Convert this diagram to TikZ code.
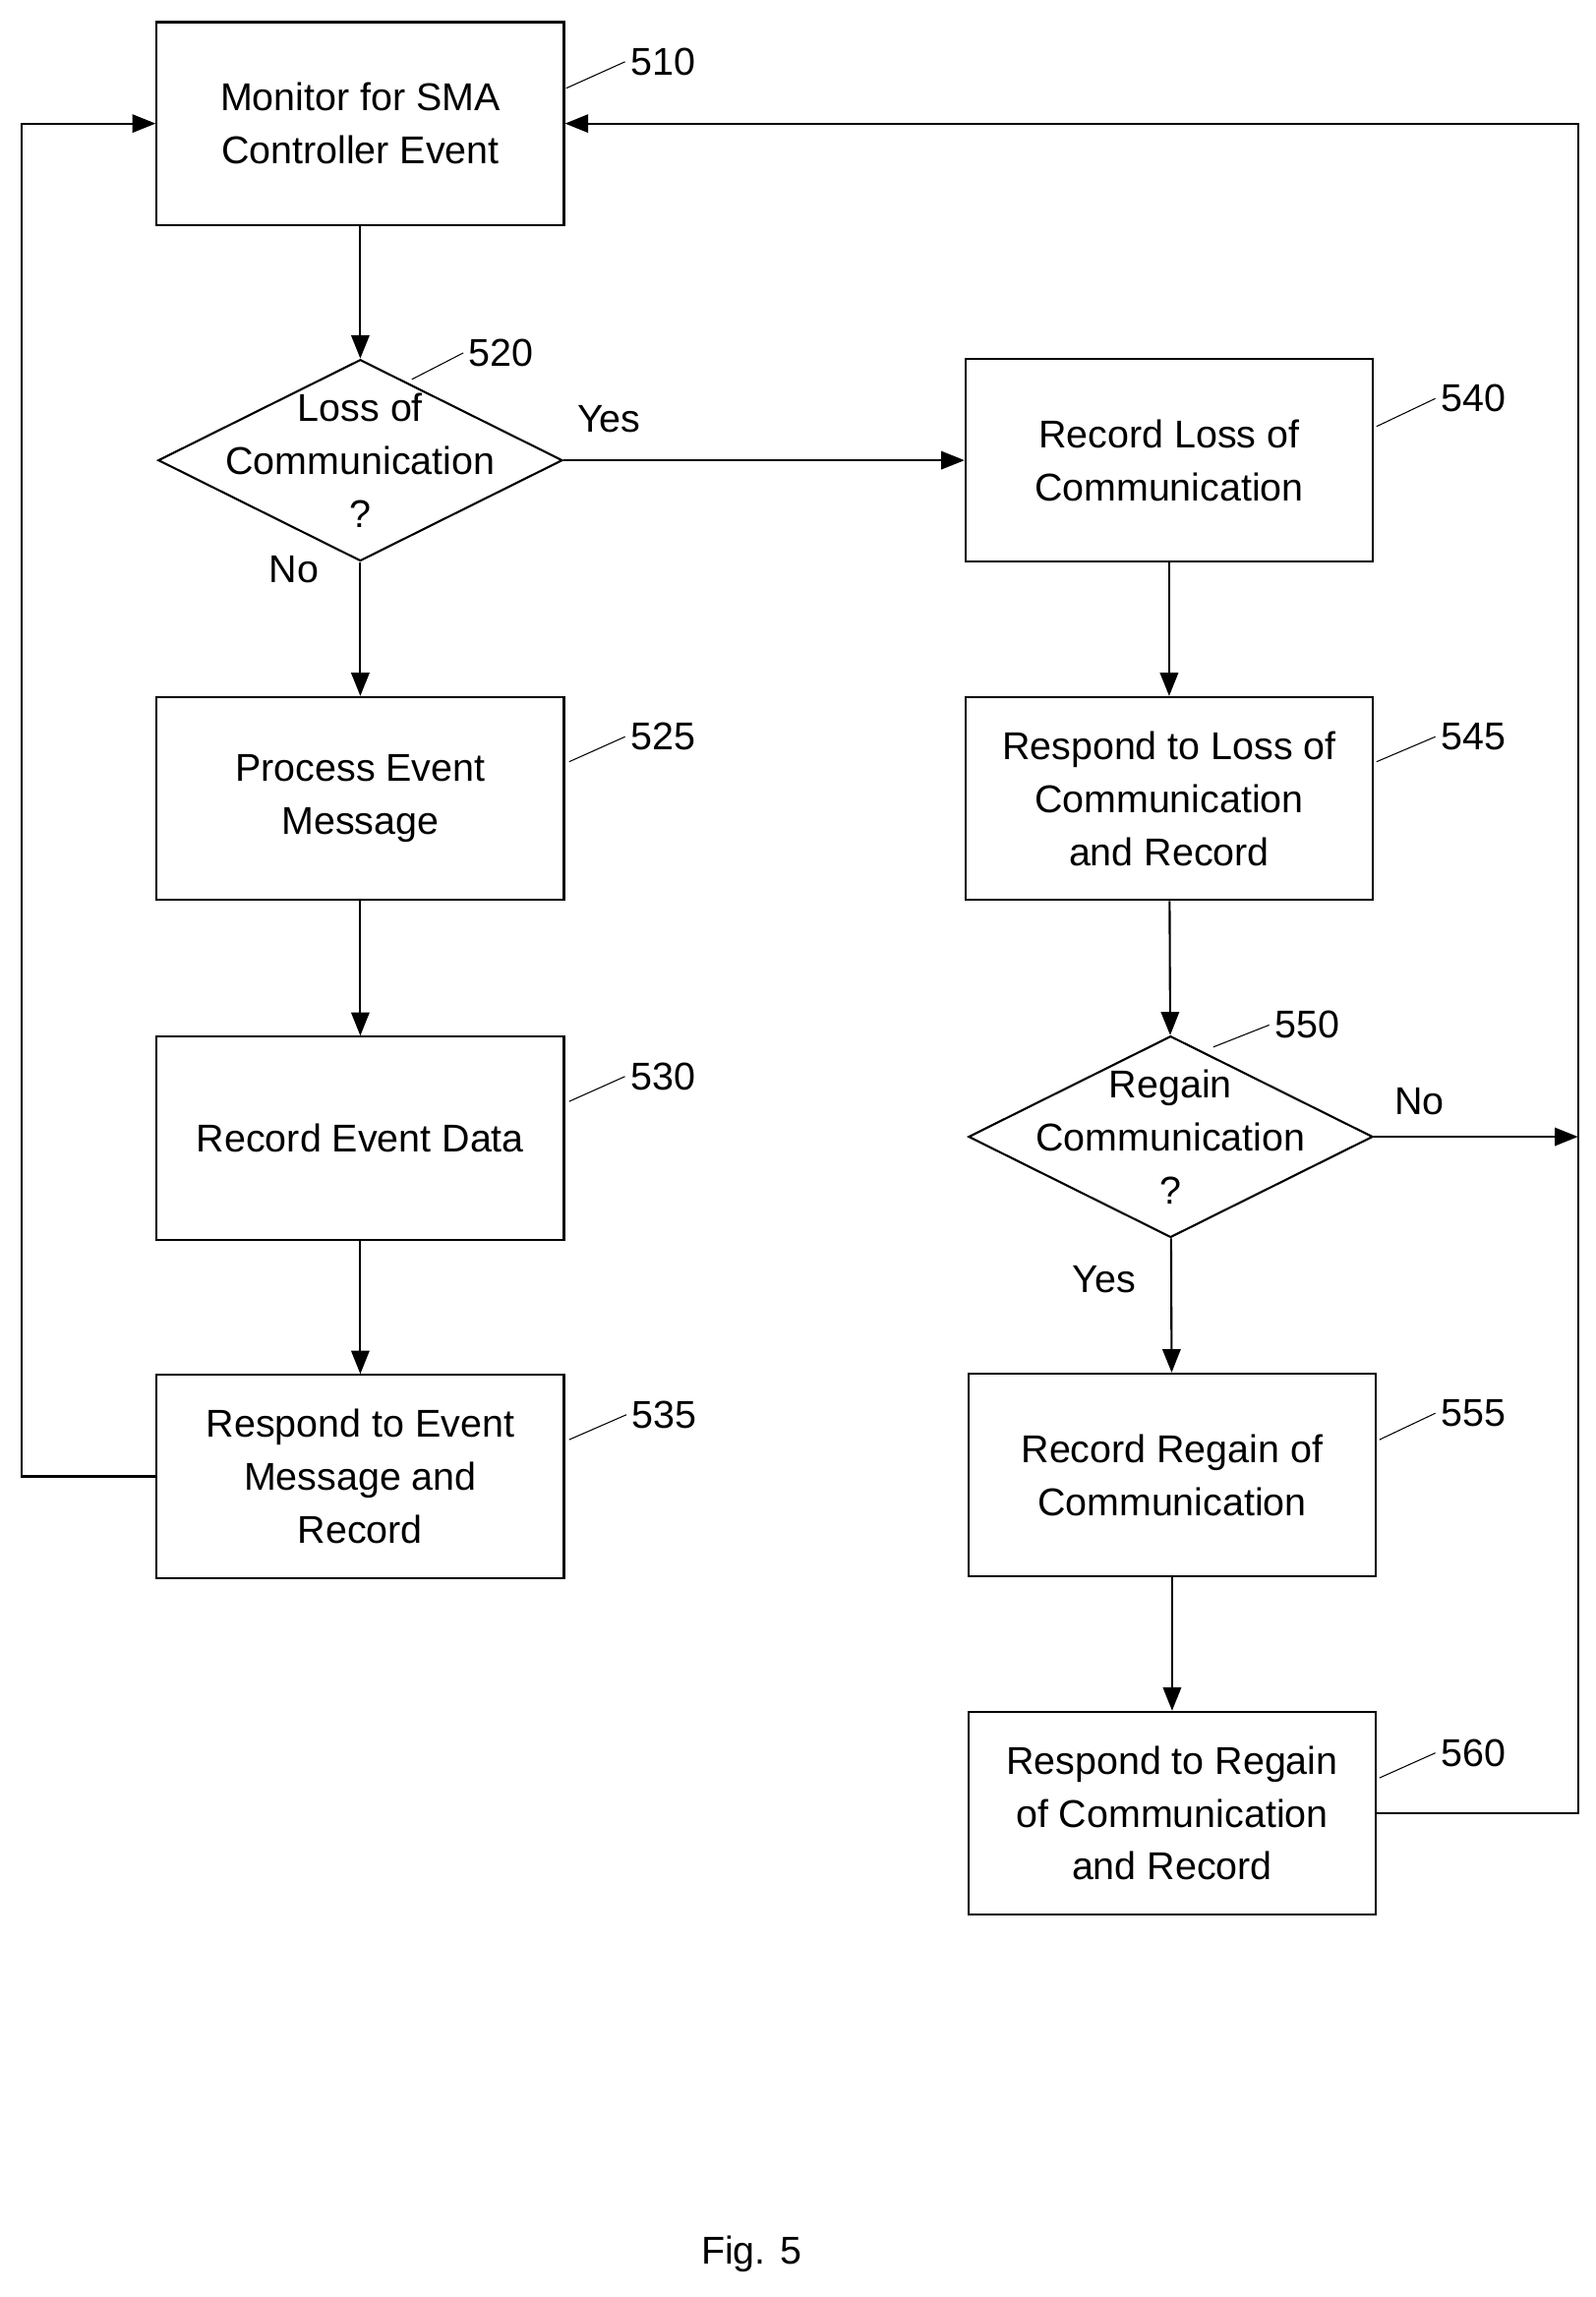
\documentclass[tikz,border=0pt]{standalone}
\usepackage{fontspec}
\setmainfont{Liberation Sans}
\usetikzlibrary{arrows.meta,shapes.geometric}
\begin{document}
\begin{tikzpicture}[x=0.02cm,y=-0.02cm,
    every node/.style={font=\fontsize{15}{20.5}\selectfont},
    box/.style={draw,thick,minimum width=5.54cm,minimum height=2.76cm,align=center,inner sep=0pt},
    decision/.style={draw,thick,diamond,aspect=2,minimum width=5.5cm,minimum height=2.74cm,inner sep=0pt},
    flow/.style={thick,-{Triangle[length=9pt,width=7pt]}},
    tag/.style={font=\fontsize{15}{18}\selectfont}]
  \useasboundingbox (0,0) rectangle (1085,1562);

  \node[box] (M) at (245,84)  {Monitor for SMA\\Controller Event};
  \node[decision] (L) at (245,313) {};
  \node[align=center] (Lt) at (245,313) {Loss of\\Communication\\?};
  \node[box] (P) at (245,543) {Process Event\\Message};
  \node[box] (R) at (245,774) {Record Event Data};
  \node[box] (E) at (245,1004) {Respond to Event\\Message and\\Record};
  \node[box] (A) at (795,313) {Record Loss of\\Communication};
  \node[box] (B) at (795,543) {Respond to Loss of\\Communication\\and Record};
  \node[decision] (G) at (796,773) {};
  \node[align=center] (Gt) at (796,773) {Regain\\Communication\\?};
  \node[box] (C) at (797,1003) {Record Regain of\\Communication};
  \node[box] (D) at (797,1233) {Respond to Regain\\of Communication\\and Record};
  \coordinate (lx) at (15,0);
  \coordinate (rx) at (1073,0);

  \draw[flow] (M) -- (L);
  \draw[flow] (L) -- (P);
  \draw[flow] (P) -- (R);
  \draw[flow] (R) -- (E);
  \draw[flow] (L) -- (A);
  \draw[flow] (A) -- (B);
  \draw[flow] (B) -- (G);
  \draw[flow] (G) -- (C);
  \draw[flow] (C) -- (D);
  \draw[flow] (G.east) -- (G.east -| rx);
  \draw[flow] (E.west) -- (E.west -| lx) -- (M.west -| lx) -- (M.west);
  \draw[flow] (D.east) -- (D.east -| rx) -- (M.east -| rx) -- (M.east);

  \node (yes1) at (414,285) {Yes};
  \node (no1) at (200,387) {No};
  \node (no2) at (965,749) {No};
  \node (yes2) at (751,870) {Yes};

  % reference numbers
  \foreach \n/\x/\y/\lx/\ly in {510/465/38/385/60, 520/355/236/280/258,
      525/465/497/387/518, 530/465/728/387/749, 535/466/958/387/979,
      540/1016/267/936/290, 545/1016/497/936/518, 550/903/693/825/712,
      555/1016/957/938/979, 560/1016/1188/938/1209}
    \draw (\lx,\ly) -- (\x-40,\y+4) node[tag,anchor=west,inner sep=2pt] (n\n) {\n};

  \node (fig) at (511,1533) {Fig. 5};
\end{tikzpicture}
\end{document}
